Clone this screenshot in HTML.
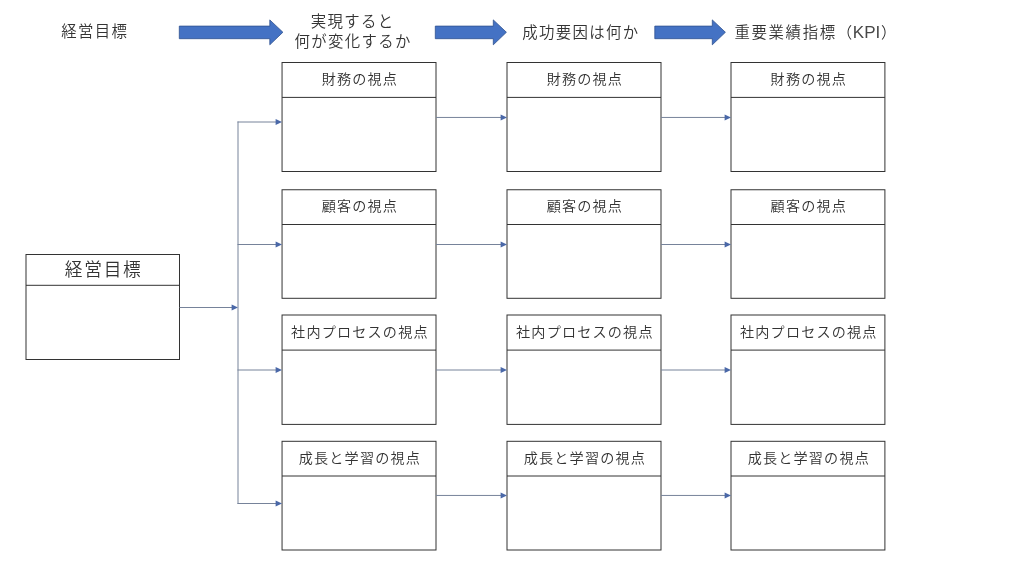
<!DOCTYPE html>
<html lang="ja"><head><meta charset="utf-8"><title>経営目標</title>
<style>html,body{margin:0;padding:0;background:#fff;overflow:hidden}svg{display:block;will-change:transform}</style>
</head><body>
<svg width="1024" height="576" viewBox="0 0 1024 576">
<rect width="1024" height="576" fill="#fff"/>
<polygon fill="#4472c4" stroke="#2f528f" stroke-width="0.8" stroke-linejoin="miter" points="179.3,26.1 269.8,26.1 269.8,19.9 282.9,32.25 269.8,44.8 269.8,38.7 179.3,38.7"/>
<polygon fill="#4472c4" stroke="#2f528f" stroke-width="0.8" stroke-linejoin="miter" points="435.3,26.1 493.3,26.1 493.3,19.9 506.4,32.25 493.3,44.8 493.3,38.7 435.3,38.7"/>
<polygon fill="#4472c4" stroke="#2f528f" stroke-width="0.8" stroke-linejoin="miter" points="654.8,26.1 712.3,26.1 712.3,19.9 725.4,32.25 712.3,44.8 712.3,38.7 654.8,38.7"/>
<rect x="26.0" y="254.5" width="153.50" height="105.00" fill="#fff" stroke="#333" stroke-width="1"/><line x1="26.0" y1="285.3" x2="179.5" y2="285.3" stroke="#333" stroke-width="1"/>
<rect x="282.05" y="62.5" width="153.95" height="109.00" fill="#fff" stroke="#333" stroke-width="1"/><line x1="282.05" y1="97.4" x2="436" y2="97.4" stroke="#333" stroke-width="1"/>
<rect x="282.05" y="189.75" width="153.95" height="108.55" fill="#fff" stroke="#333" stroke-width="1"/><line x1="282.05" y1="224.5" x2="436" y2="224.5" stroke="#333" stroke-width="1"/>
<rect x="282.05" y="315.0" width="153.95" height="109.40" fill="#fff" stroke="#333" stroke-width="1"/><line x1="282.05" y1="350.1" x2="436" y2="350.1" stroke="#333" stroke-width="1"/>
<rect x="282.05" y="441.3" width="153.95" height="108.70" fill="#fff" stroke="#333" stroke-width="1"/><line x1="282.05" y1="476.0" x2="436" y2="476.0" stroke="#333" stroke-width="1"/>
<rect x="507" y="62.5" width="154.00" height="109.00" fill="#fff" stroke="#333" stroke-width="1"/><line x1="507" y1="97.4" x2="661" y2="97.4" stroke="#333" stroke-width="1"/>
<rect x="507" y="189.75" width="154.00" height="108.55" fill="#fff" stroke="#333" stroke-width="1"/><line x1="507" y1="224.5" x2="661" y2="224.5" stroke="#333" stroke-width="1"/>
<rect x="507" y="315.0" width="154.00" height="109.40" fill="#fff" stroke="#333" stroke-width="1"/><line x1="507" y1="350.1" x2="661" y2="350.1" stroke="#333" stroke-width="1"/>
<rect x="507" y="441.3" width="154.00" height="108.70" fill="#fff" stroke="#333" stroke-width="1"/><line x1="507" y1="476.0" x2="661" y2="476.0" stroke="#333" stroke-width="1"/>
<rect x="731" y="62.5" width="153.90" height="109.00" fill="#fff" stroke="#333" stroke-width="1"/><line x1="731" y1="97.4" x2="884.9" y2="97.4" stroke="#333" stroke-width="1"/>
<rect x="731" y="189.75" width="153.90" height="108.55" fill="#fff" stroke="#333" stroke-width="1"/><line x1="731" y1="224.5" x2="884.9" y2="224.5" stroke="#333" stroke-width="1"/>
<rect x="731" y="315.0" width="153.90" height="109.40" fill="#fff" stroke="#333" stroke-width="1"/><line x1="731" y1="350.1" x2="884.9" y2="350.1" stroke="#333" stroke-width="1"/>
<rect x="731" y="441.3" width="153.90" height="108.70" fill="#fff" stroke="#333" stroke-width="1"/><line x1="731" y1="476.0" x2="884.9" y2="476.0" stroke="#333" stroke-width="1"/>
<line x1="179.5" y1="307.5" x2="234" y2="307.5" stroke="#76839a" stroke-width="1"/><polygon fill="#4a68a8" points="231.6,304.5 238,307.5 231.6,310.5"/>
<line x1="238" y1="121.5" x2="238" y2="504.0" stroke="#76839a" stroke-width="1"/>
<line x1="237.5" y1="122" x2="278" y2="122" stroke="#76839a" stroke-width="1"/><polygon fill="#4a68a8" points="275.6,119.0 282,122 275.6,125.0"/>
<line x1="237.5" y1="244.5" x2="278" y2="244.5" stroke="#76839a" stroke-width="1"/><polygon fill="#4a68a8" points="275.6,241.5 282,244.5 275.6,247.5"/>
<line x1="237.5" y1="370" x2="278" y2="370" stroke="#76839a" stroke-width="1"/><polygon fill="#4a68a8" points="275.6,367.0 282,370 275.6,373.0"/>
<line x1="237.5" y1="503.5" x2="278" y2="503.5" stroke="#76839a" stroke-width="1"/><polygon fill="#4a68a8" points="275.6,500.5 282,503.5 275.6,506.5"/>
<line x1="436" y1="117.45" x2="503" y2="117.45" stroke="#76839a" stroke-width="1"/><polygon fill="#4a68a8" points="500.6,114.45 507,117.45 500.6,120.45"/>
<line x1="661" y1="117.45" x2="727" y2="117.45" stroke="#76839a" stroke-width="1"/><polygon fill="#4a68a8" points="724.6,114.45 731,117.45 724.6,120.45"/>
<line x1="436" y1="244.5" x2="503" y2="244.5" stroke="#76839a" stroke-width="1"/><polygon fill="#4a68a8" points="500.6,241.5 507,244.5 500.6,247.5"/>
<line x1="661" y1="244.5" x2="727" y2="244.5" stroke="#76839a" stroke-width="1"/><polygon fill="#4a68a8" points="724.6,241.5 731,244.5 724.6,247.5"/>
<line x1="436" y1="370.0" x2="503" y2="370.0" stroke="#76839a" stroke-width="1"/><polygon fill="#4a68a8" points="500.6,367.0 507,370.0 500.6,373.0"/>
<line x1="661" y1="370.0" x2="727" y2="370.0" stroke="#76839a" stroke-width="1"/><polygon fill="#4a68a8" points="724.6,367.0 731,370.0 724.6,373.0"/>
<line x1="436" y1="495.45" x2="503" y2="495.45" stroke="#76839a" stroke-width="1"/><polygon fill="#4a68a8" points="500.6,492.45 507,495.45 500.6,498.45"/>
<line x1="661" y1="495.45" x2="727" y2="495.45" stroke="#76839a" stroke-width="1"/><polygon fill="#4a68a8" points="724.6,492.45 731,495.45 724.6,498.45"/>
<g fill="#333" font-family="'Liberation Sans', 'Noto Sans CJK JP', sans-serif" font-weight="350">
<text x="94.675" y="37.10" font-size="15.4" letter-spacing="1.35" text-anchor="middle">経営目標</text>
<text x="352.675" y="27.10" font-size="15.4" letter-spacing="1.35" text-anchor="middle">実現すると</text>
<text x="353.175" y="46.60" font-size="15.4" letter-spacing="1.35" text-anchor="middle">何が変化するか</text>
<text x="580.925" y="37.75" font-size="15.4" letter-spacing="1.35" text-anchor="middle">成功要因は何か</text>
<text x="734.5" y="37.85" font-size="15.4" letter-spacing="1.65" text-anchor="start">重要業績指標（<tspan font-size="17" letter-spacing="0" dx="-1" dy="0.4" fill="#484848">KPI</tspan><tspan dx="0.7" dy="-0.4">）</tspan></text>
<text x="103.675" y="275.83" font-size="17.7" letter-spacing="1.75" text-anchor="middle">経営目標</text>
<text x="359.925" y="84.01" font-size="14.1" letter-spacing="1.2" text-anchor="middle">財務の視点</text>
<text x="359.925" y="211.18" font-size="14.1" letter-spacing="1.2" text-anchor="middle">顧客の視点</text>
<text x="359.925" y="336.61" font-size="14.1" letter-spacing="1.2" text-anchor="middle">社内プロセスの視点</text>
<text x="359.925" y="462.71" font-size="14.1" letter-spacing="1.2" text-anchor="middle">成長と学習の視点</text>
<text x="584.9" y="84.01" font-size="14.1" letter-spacing="1.2" text-anchor="middle">財務の視点</text>
<text x="584.9" y="211.18" font-size="14.1" letter-spacing="1.2" text-anchor="middle">顧客の視点</text>
<text x="584.9" y="336.61" font-size="14.1" letter-spacing="1.2" text-anchor="middle">社内プロセスの視点</text>
<text x="584.9" y="462.71" font-size="14.1" letter-spacing="1.2" text-anchor="middle">成長と学習の視点</text>
<text x="808.85" y="84.01" font-size="14.1" letter-spacing="1.2" text-anchor="middle">財務の視点</text>
<text x="808.85" y="211.18" font-size="14.1" letter-spacing="1.2" text-anchor="middle">顧客の視点</text>
<text x="808.85" y="336.61" font-size="14.1" letter-spacing="1.2" text-anchor="middle">社内プロセスの視点</text>
<text x="808.85" y="462.71" font-size="14.1" letter-spacing="1.2" text-anchor="middle">成長と学習の視点</text>
</g>
</svg>
</body></html>
